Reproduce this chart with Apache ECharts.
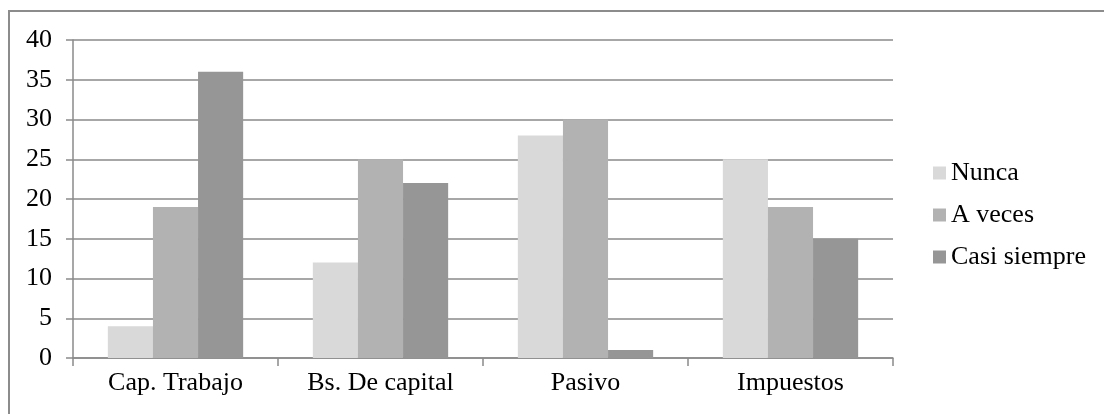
<!DOCTYPE html>
<html>
<head>
<meta charset="utf-8">
<style>
  html, body { margin: 0; padding: 0; background: #ffffff; }
  #chart { width: 1104px; height: 414px; }
</style>
<script src="https://cdn.jsdelivr.net/npm/echarts@6/dist/echarts.min.js"></script>
</head>
<body>
<div id="chart"></div>
<script>
// Categories, series and axis ticks
const categories = ['Cap. Trabajo', 'Bs. De capital', 'Pasivo', 'Impuestos'];
const seriesNames = ['Nunca', 'A veces', 'Casi siempre'];
const nunca = [4, 12, 28, 25];
const aVeces = [19, 25, 30, 19];
const casiSiempre = [36, 22, 1, 15];
const yMin = 0, yMax = 40, yStep = 5;

const colors = ['#d9d9d9', '#b2b2b2', '#969696'];
const font = '"Liberation Serif", "Times New Roman", serif';
const gridColor = '#8a8a8a';

const chart = echarts.init(document.getElementById('chart'));
const values = [nunca, aVeces, casiSiempre];

chart.setOption({
  animation: false,
  backgroundColor: '#ffffff',
  textStyle: { fontFamily: font },
  graphic: [{
    type: 'rect',
    shape: { x: 9, y: 11, width: 1300, height: 600 },
    style: { fill: 'none', stroke: '#8c8c8c', lineWidth: 2 },
    silent: true
  }],
  grid: { left: 73, top: 40, right: 211, bottom: 56 },
  legend: {
    orient: 'vertical',
    left: 928,
    top: 155,
    itemWidth: 13,
    itemHeight: 13,
    itemGap: 16,
    icon: 'rect',
    textStyle: { fontFamily: font, fontSize: 26, color: '#000', padding: [0, 0, 0, 0] },
    data: seriesNames
  },
  xAxis: {
    type: 'category',
    data: categories,
    axisLine: { lineStyle: { color: gridColor, width: 1.5 } },
    axisTick: { show: true, length: 8, lineStyle: { color: gridColor, width: 1.5 } },
    axisLabel: { color: '#000', fontSize: 26, fontFamily: font, margin: 12 }
  },
  yAxis: {
    type: 'value',
    min: yMin, max: yMax, interval: yStep,
    axisLine: { show: true, lineStyle: { color: gridColor, width: 1.5 } },
    axisTick: { show: true, length: 7, lineStyle: { color: gridColor, width: 1.5 } },
    axisLabel: { color: '#000', fontSize: 26, fontFamily: font, margin: 21 },
    splitLine: { lineStyle: { color: gridColor, width: 1.5 } }
  },
  series: seriesNames.map((name, i) => ({
    name,
    type: 'bar',
    data: values[i],
    barGap: '0%',
    barCategoryGap: '34%',
    itemStyle: { color: colors[i] }
  }))
});
</script>
</body>
</html>
